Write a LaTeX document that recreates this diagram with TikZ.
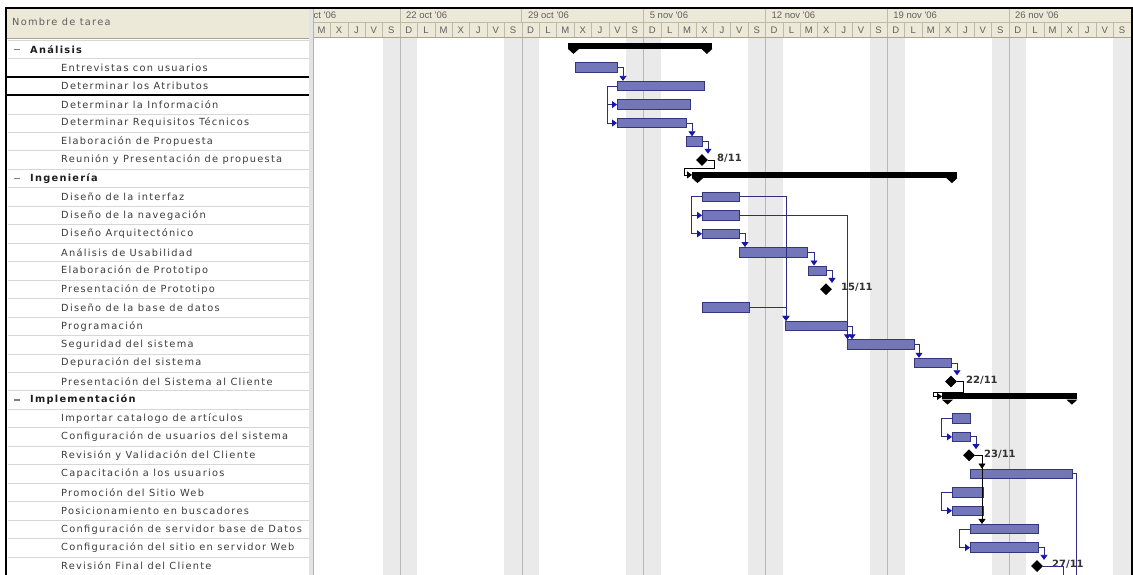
\documentclass[tikz,border=0pt]{standalone}
\usepackage{fontspec}
\setmainfont{DejaVu Sans}
\newfontfamily\rowfont[LetterSpace=13]{DejaVu Sans}
\newfontfamily\hdrfont{Liberation Sans}
\usetikzlibrary{arrows.meta,calc,shapes.geometric}
\definecolor{hdrbg}{RGB}{236,233,216}
\definecolor{hdrline}{RGB}{190,186,168}
\definecolor{hdrdark}{RGB}{168,164,144}
\definecolor{rowline}{RGB}{215,215,215}
\definecolor{wkend}{RGB}{234,234,234}
\definecolor{wkline}{RGB}{185,185,185}
\definecolor{barfill}{RGB}{115,118,185}
\definecolor{barline}{RGB}{52,54,125}
\definecolor{linkc}{RGB}{45,45,130}
\definecolor{tipc}{RGB}{20,20,175}
\definecolor{txt}{RGB}{60,60,60}
\definecolor{hdrtxt}{RGB}{95,95,95}
\tikzset{
  taskbar/.style={rectangle, draw=barline, fill=barfill, line width=0.9pt, minimum height=9.5pt, inner sep=0pt, anchor=west},
  sumbar/.style={rectangle, fill=black, minimum height=6pt, inner sep=0pt, anchor=west},
  mstone/.style={diamond, fill=black, minimum width=12pt, minimum height=12pt, inner sep=0pt},
  mslbl/.style={anchor=west, inner sep=0pt, font=\bfseries\fontsize{10}{12}\selectfont, text={rgb,255:red,50;green,50;blue,50}},
  link/.style={draw=linkc, line width=0.8pt, -{Triangle[width=7pt,length=5pt,color=tipc]}},
  blink/.style={draw=black, line width=0.8pt, -{Triangle[width=7pt,length=5pt,color=black]}},
  plainlink/.style={draw=linkc, line width=0.8pt},
  tasktxt/.style={anchor=west, inner sep=0pt, font=\rowfont\fontsize{9.8}{11}\selectfont, text=txt},
  grptxt/.style={anchor=west, inner sep=0pt, font=\rowfont\bfseries\fontsize{9.8}{11}\selectfont, text={rgb,255:red,30;green,30;blue,30}},
  hdrtext/.style={anchor=west, inner sep=0pt, font=\hdrfont\fontsize{9.5}{11}\selectfont, text=hdrtxt},
  daytxt/.style={inner sep=0pt, font=\hdrfont\fontsize{9.5}{11}\selectfont, text=hdrtxt}
}
\newcommand\tbar[4]{\node[taskbar, minimum width={(#4-#3)*1pt}] (#1) at (#3,{49.2+18.46*#2}) {};}
\newcommand\sbar[4]{\node[sumbar, minimum width={(#4-#3)*1pt}] (#1) at (#3,{49.2+18.46*#2-3.5}) {};
  \fill (#1.south west) -- ++(11,0) -- ++(-5.5,5) -- cycle;
  \fill (#1.south east) -- ++(-11,0) -- ++(5.5,5) -- cycle;}
\newcommand\mst[4]{\node[mstone] (#1) at (#3,{49.2+18.46*#2}) {};
  \node[mslbl] (#1l) at (#3+15,{49.2+18.46*#2-1.5}) {#4};}
\begin{document}
\begin{tikzpicture}[x=1pt,y=-1pt]
\useasboundingbox (0,0) rectangle (1133,575);
\fill[white] (0,0) rectangle (1133,575);
% weekend shading
\foreach \w in {400,521.8,643.6,765.4,887.2,1009}{
  \fill[wkend] (\w-17.4,37) rectangle (\w+17.4,575);
  \draw[wkline, line width=0.6pt] (\w,37) -- (\w,575);
}
\fill[wkend] (1113.4,37) rectangle (1131,575);
% headers
\fill[hdrbg] (7,9) rectangle (309,38);
\draw[hdrdark, line width=1pt] (7,38.5) -- (309,38.5);
\node[tasktxt, text=hdrtxt] (hname) at (12,21.5) {Nombre de tarea};
\fill[hdrbg] (313,9) rectangle (1131,37);
\draw[hdrline, line width=0.7pt] (313,22) -- (1131,22);
\draw[hdrdark, line width=0.8pt] (313,37) -- (1131,37);
\foreach \k in {0,...,47}{
  \draw[hdrline, line width=0.6pt] ({313+17.4*\k},22) -- ({313+17.4*\k},37);
}
\foreach \l [count=\k from 0] in {M,X,J,V,S,D,L,M,X,J,V,S,D,L,M,X,J,V,S,D,L,M,X,J,V,S,D,L,M,X,J,V,S,D,L,M,X,J,V,S,D,L,M,X,J,V,S}{
  \node[daytxt] at ({313+17.4*(\k+0.5)},30) {\l};
}
\foreach \w/\t in {400/22 oct '06,521.8/29 oct '06,643.6/5 nov '06,765.4/12 nov '06,887.2/19 nov '06,1009/26 nov '06}{
  \draw[hdrline, line width=0.7pt] (\w,9) -- (\w,22);
  \node[hdrtext] at (\w+6,15.5) {\t};
}
\begin{scope}
  \clip (313,9) rectangle (400,22);
  \node[hdrtext] (wk0) at (295,15.5) {15 oct '06};
\end{scope}
% table rows
\foreach \i in {1,...,29}{
  \draw[rowline, line width=0.6pt] (8,{40+18.46*\i}) -- (309,{40+18.46*\i});
}
\draw[rowline, line width=0.6pt] (8,40) -- (309,40);
\foreach \i/\t in {0/Análisis,7/Ingeniería,19/Implementación}{
  \draw[gray, line width=1.3pt] (13.5,{49.2+18.46*\i}) -- (19.5,{49.2+18.46*\i});
  \node[grptxt] (g\i) at (30,{49.2+18.46*\i}) {\t};
}
\foreach \i/\t in {1/Entrevistas con usuarios,2/Determinar los Atributos,3/Determinar la Información,4/Determinar Requisitos Técnicos,5/Elaboración de Propuesta,6/Reunión y Presentación de propuesta,8/Diseño de la interfaz,9/Diseño de la navegación,10/Diseño Arquitectónico,11/Análisis de Usabilidad,12/Elaboración de Prototipo,13/Presentación de Prototipo,14/Diseño de la base de datos,15/Programación,16/Seguridad del sistema,17/Depuración del sistema,18/Presentación del Sistema al Cliente,20/Importar catalogo de artículos,21/Configuración de usuarios del sistema,22/Revisión y Validación del Cliente,23/Capacitación a los usuarios,24/Promoción del Sitio Web,25/Posicionamiento en buscadores,26/Configuración de servidor base de Datos,27/Configuración del sitio en servidor Web,28/Revisión Final del Cliente}{
  \node[tasktxt] (r\i) at (61,{49.2+18.46*\i}) {\t};
}
% selected row
\draw[black, line width=2pt] (7,76.9) -- (310,76.9);
\draw[black, line width=2pt] (7,95.4) -- (310,95.4);
% separator
\fill[gray!22] (309,9) rectangle (313,575);
\draw[gray!60, line width=0.8pt] (313,9) -- (313,575);
% outer frame
\draw[black, line width=2.5pt] (5,8) -- (1133,8);
\draw[black, line width=2.5pt] (6,8) -- (6,575);
\draw[black, line width=2.5pt] (1131.8,8) -- (1131.8,575);
% summary bars
\sbar{ana}{0}{568}{712}
\sbar{ing}{7}{692}{957}
\sbar{imp}{19}{942}{1077}
% task bars
\tbar{ent}{1}{575}{617}
\tbar{atr}{2}{617}{704}
\tbar{inf}{3}{617}{690}
\tbar{req}{4}{617}{686}
\tbar{pro}{5}{686}{702}
\mst{m8}{6}{702}{8/11}
\tbar{int}{8}{702}{739}
\tbar{nav}{9}{702}{739}
\tbar{arq}{10}{702}{739}
\tbar{usa}{11}{739}{807}
\tbar{epr}{12}{808}{826}
\mst{m15}{13}{826}{15/11}
\tbar{bd}{14}{702}{749}
\tbar{prg}{15}{785}{847}
\tbar{seg}{16}{847}{914}
\tbar{dep}{17}{914}{951}
\mst{m22}{18}{951}{22/11}
\tbar{ica}{20}{952}{970}
\tbar{cus}{21}{952}{970}
\mst{m23}{22}{969}{23/11}
\tbar{cap}{23}{970}{1072}
\tbar{prm}{24}{952}{983}
\tbar{pos}{25}{952}{983}
\tbar{csb}{26}{970}{1038}
\tbar{csw}{27}{970}{1038}
\mst{m27}{28}{1037}{27/11}
\coordinate (capend) at (1076,575);
\coordinate (m27end) at (1063,575);
% links
\draw[link] (ent.east) -| ([xshift=6pt]atr.north west);
\draw[link] (atr.west) -| ([xshift=-10pt]inf.west) -- (inf.west);
\draw[link] (atr.west) -| ([xshift=-10pt]req.west) -- (req.west);
\draw[link] (req.east) -| ([xshift=6pt]pro.north west);
\draw[link] (pro.east) -| ([xshift=6pt]m8.north);
\draw[blink] (m8.east) -- ++(6,0) -- ++(0,8.5) -| ([xshift=-8pt]ing.west) -- (ing.west);
\draw[link] (int.west) -| ([xshift=-11pt]nav.west) -- (nav.west);
\draw[link] (int.west) -| ([xshift=-11pt]arq.west) -- (arq.west);
\draw[link] (int.east) -| ([xshift=1pt]prg.north west);
\draw[link] (bd.east) -| ([xshift=1pt]prg.north west);
\draw[link] (nav.east) -| ([xshift=0.5pt]seg.north west);
\draw[link] (prg.east) -| ([xshift=5pt]seg.north west);
\draw[link] (arq.east) -| ([xshift=6pt]usa.north west);
\draw[link] (usa.east) -| ([xshift=6pt]epr.north west);
\draw[link] (epr.east) -| ([xshift=6pt]m15.north);
\draw[link] (seg.east) -| ([xshift=5pt]dep.north west);
\draw[link] (dep.east) -| ([xshift=6pt]m22.north);
\draw[blink] (m22.east) -- ++(6,0) -- ++(0,10.5) -| ([xshift=-9pt]imp.west) -- (imp.west);
\draw[link] (ica.west) -| ([xshift=-11pt]cus.west) -- (cus.west);
\draw[link] (cus.east) -| ([xshift=7pt]m23.north);
\draw[blink] (m23.east) -| ([xshift=12pt]cap.north west);
\draw[blink] (m23.east) -| ([xshift=12pt]csb.north west);
\draw[link] (prm.west) -| ([xshift=-11pt]pos.west) -- (pos.west);
\draw[link] (csb.west) -| ([xshift=-11pt]csw.west) -- (csw.west);
\draw[link] (csw.east) -| ([xshift=7pt]m27.north);
\draw[plainlink] (cap.east) -| (capend);
\draw[plainlink] (m27.east) -| (m27end);
\end{tikzpicture}
\end{document}
